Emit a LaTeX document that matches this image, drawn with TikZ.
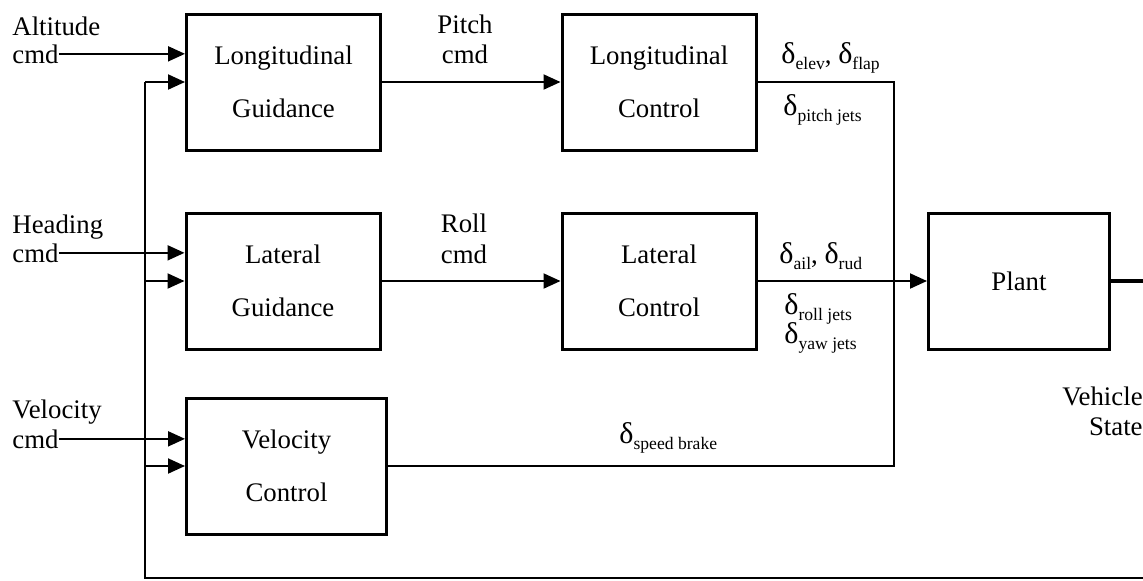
\documentclass[tikz,border=0pt]{standalone}
\usepackage{fontspec}
\setmainfont{Liberation Serif}
\usetikzlibrary{arrows.meta}
\newcommand{\dsub}[1]{\scalebox{1.12}{δ}\raisebox{-3.4pt}{\fontsize{8.8}{9}\selectfont #1}}
\begin{document}
\begin{tikzpicture}[x=0.5pt,y=-0.5pt,
  blk/.style={draw,line width=1.5pt,minimum width=97pt,minimum height=68pt,inner sep=0pt,align=center,font=\fontsize{13.4}{26.5}\selectfont},
  lbl/.style={inner sep=0pt,font=\fontsize{13.4}{15}\selectfont},
  wire/.style={line width=1pt},
  arr/.style={wire,-{Triangle[length=8.5pt,width=7.5pt]}}]
\useasboundingbox (0,0) rectangle (1143,580);
% blocks
\node[blk] (lonG) at (283.5,82) {Longitudinal\\Guidance};
\node[blk] (lonC) at (659,82) {Longitudinal\\Control};
\node[blk] (latG) at (283,281) {Lateral\\Guidance};
\node[blk] (latC) at (659,281) {Lateral\\Control};
\node[blk,minimum width=100pt] (velC) at (286.5,466) {Velocity\\Control};
\node[blk,minimum width=90.5pt] (plant) at (1019,281) {Plant};
% commands
\node[lbl,anchor=base west] (alt) at (12,35) {Altitude};
\node[lbl,anchor=base west] (altC) at (12,63) {cmd};
\node[lbl,anchor=base west] (hdg) at (12,233) {Heading};
\node[lbl,anchor=base west] (hdgC) at (12,262) {cmd};
\node[lbl,anchor=base west] (vel) at (12,418) {Velocity};
\node[lbl,anchor=base west] (velCm) at (12,448) {cmd};
\node[lbl,anchor=base] (pitch) at (465,33) {Pitch};
\node[lbl,anchor=base] (pitchC) at (465,63) {cmd};
\node[lbl,anchor=base] (roll) at (464,232) {Roll};
\node[lbl,anchor=base] (rollC) at (464,263) {cmd};
% surface deflections
\node[lbl,anchor=base west] (dLon) at (781,63) {\dsub{elev}, \dsub{flap}};
\node[lbl,anchor=base west] (dPj) at (783,115) {\dsub{pitch jets}};
\node[lbl,anchor=base west] (dLat) at (779,263) {\dsub{ail}, \dsub{rud}};
\node[lbl,anchor=base west] (dRj) at (784,314) {\dsub{roll jets}};
\node[lbl,anchor=base west] (dYj) at (784,343) {\dsub{yaw jets}};
\node[lbl,anchor=base west] (dSb) at (619,443) {\dsub{speed brake}};
\node[lbl,align=right,anchor=north east] (state) at (1143,386) {Vehicle\\State};
\coordinate (bus) at (894,466);
\coordinate (fb) at (145,578);
\coordinate (fbR) at (1143,578);
\coordinate (out) at (1143,281);
% inputs
\draw[arr] (altC.east) -- (altC.east -| lonG.west);
\draw[arr] (hdgC.east) -- (hdgC.east -| latG.west);
\draw[arr] (velCm.east) -- (velCm.east -| velC.west);
% feedback
\draw[wire] (fbR) -- (fb) -- (fb |- lonG.west);
\draw[arr] (fb |- lonG.west) -- (lonG.west);
\draw[arr] (fb |- latG.west) -- (latG.west);
\draw[arr] (fb |- velC.west) -- (velC.west);
% forward path
\draw[arr] (lonG) -- (lonC);
\draw[arr] (latG) -- (latC);
\draw[wire] (lonC.east) -- (lonC.east -| bus) -- (bus) -- (velC.east);
\draw[arr] (latC) -- (plant);
\draw[line width=2pt] (plant.east) -- (out);
\end{tikzpicture}
\end{document}
